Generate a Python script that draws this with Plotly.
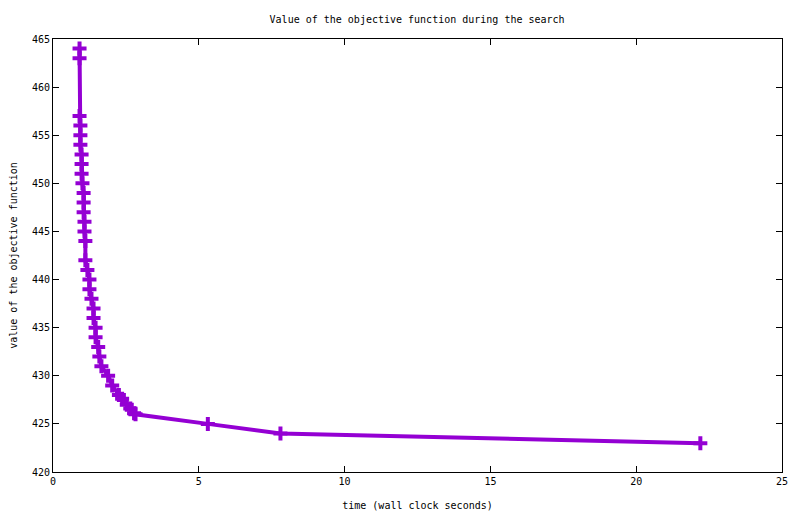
import plotly.graph_objects as go

# search trace: wall clock seconds vs objective value
time_s = [0.91, 0.91, 0.91, 0.94, 0.94, 0.94, 0.98, 0.98, 0.98, 1.01,
          1.05, 1.05, 1.05, 1.08, 1.08, 1.11, 1.11, 1.18, 1.25, 1.25,
          1.32, 1.39, 1.39, 1.46, 1.46, 1.55, 1.59, 1.66, 1.89, 2.03,
          2.26, 2.37, 2.53, 2.65, 2.78, 2.83, 5.31, 7.80, 22.2]
objective = [464, 463, 457, 456, 455, 454, 453, 452, 451, 450,
             449, 448, 447, 446, 445, 444, 442, 441, 440, 439,
             438, 437, 436, 435, 434, 433, 432, 431, 430, 429,
             428, 427.6, 427, 426.6, 426.1, 426, 425, 424, 423]

x_ticks = [0, 5, 10, 15, 20, 25]
y_ticks = [420, 425, 430, 435, 440, 445, 450, 455, 460, 465]

font = "DejaVu Sans Mono"
purple = "#9400D3"

fig = go.Figure()
fig.add_trace(go.Scatter(
    x=time_s, y=objective, mode='lines+markers',
    line=dict(color=purple, width=4),
    marker=dict(symbol='cross-thin', size=10, line=dict(color=purple, width=4)),
    showlegend=False))

axis = dict(showgrid=False, zeroline=False, showline=True, linecolor='black',
            linewidth=1, mirror='ticks', ticks='inside', ticklen=6,
            tickcolor='black', automargin=False,
            tickfont=dict(family=font, size=10, color='black'))

fig.update_xaxes(range=[0, 25], tickvals=x_ticks, **axis,
                 title=dict(text='time (wall clock seconds)', standoff=15,
                            font=dict(family=font, size=10, color='black')))
fig.update_yaxes(range=[420, 465], tickvals=y_ticks, **axis,
                 title=dict(text='value of the objective function', standoff=16,
                            font=dict(family=font, size=10, color='black')))

# the page body adds an 8px offset, so margins are shifted to compensate
fig.update_layout(
    width=800, height=514,
    paper_bgcolor='white', plot_bgcolor='white',
    margin=dict(l=44.5, r=26.3, t=31.3, b=50, autoexpand=False),
    title=dict(text='Value of the objective function during the search',
               x=0.5 * (44.5 + 773.7) / 800, xanchor='center',
               y=1 - 11 / 514, yanchor='middle',
               font=dict(family=font, size=10, color='black')),
)

fig.write_html("out.html")
